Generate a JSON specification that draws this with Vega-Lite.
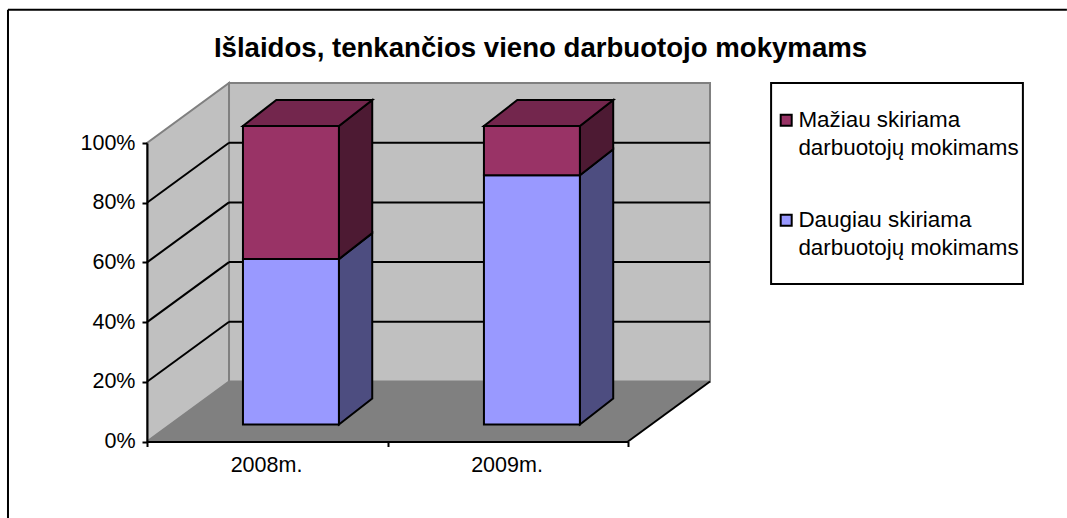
{
  "$schema": "https://vega.github.io/schema/vega-lite/v6.json",
  "width": 481,
  "height": 298.5,
  "autosize": "none",
  "padding": {"left": 147, "top": 143, "right": 439, "bottom": 76.5},
  "background": "white",
  "title": {"text": "Išlaidos, tenkančios vieno darbuotojo mokymams", "font": "Liberation Sans", "fontSize": 27.6, "fontWeight": "bold", "color": "black", "anchor": "middle", "dx": 153, "offset": -54},
  "datasets": {
    "bars": [
      {"year": "2008m.", "series": "Daugiau skiriama darbuotojų mokimams", "value": 55.4},
      {"year": "2008m.", "series": "Mažiau skiriama darbuotojų mokimams", "value": 44.6},
      {"year": "2009m.", "series": "Daugiau skiriama darbuotojų mokimams", "value": 83.5},
      {"year": "2009m.", "series": "Mažiau skiriama darbuotojų mokimams", "value": 16.5}
    ],
    "depth": [{"d": 0}, {"d": 1}],
    "grid": [{"t": 20}, {"t": 40}, {"t": 60}, {"t": 80}],
    "one": [{"k": 1}]
  },
  "config": {"view": {"stroke": null}, "font": "Liberation Sans"},
  "layer": [
    {
      "data": {"name": "depth"},
      "transform": [
        {"calculate": "0.341*datum.d", "as": "x"},
        {"calculate": "20.1*datum.d", "as": "y"},
        {"calculate": "100+20.1*datum.d", "as": "y2"}
      ],
      "mark": {"type": "area", "fill": "#C0C0C0", "stroke": "#808080", "strokeWidth": 2},
      "encoding": {
        "x": {"field": "x", "type": "quantitative", "scale": {"domain": [0, 2], "nice": false, "zero": false},
          "axis": {"values": [0, 1, 2], "title": null, "grid": false, "domainColor": "black", "domainWidth": 2, "tickColor": "black", "tickWidth": 2, "tickSize": 5, "labelFont": "Liberation Sans", "labelFontSize": 21.5, "labelColor": "black", "labelPadding": 8, "labelOffset": 119, "labelFlush": false, "labelOverlap": false, "zindex": 1,
            "labelExpr": "datum.value==0?'2008m.':datum.value==1?'2009m.':''"}},
        "y": {"field": "y", "type": "quantitative", "scale": {"domain": [0, 100], "nice": false, "zero": false},
          "axis": {"values": [0, 20, 40, 60, 80, 100], "title": null, "grid": false, "domainColor": "black", "domainWidth": 2, "tickColor": "black", "tickWidth": 2, "tickSize": 5, "labelFont": "Liberation Sans", "labelFontSize": 21.5, "labelColor": "black", "labelPadding": 7, "zindex": 1,
            "labelExpr": "datum.value+'%'"}},
        "y2": {"field": "y2"}
      }
    },
    {
      "data": {"name": "one"},
      "mark": {"type": "rect", "fill": "#C0C0C0", "stroke": "#808080", "strokeWidth": 2},
      "encoding": {
        "x": {"datum": 0.341},
        "x2": {"datum": 2.341},
        "y": {"datum": 20.1},
        "y2": {"datum": 120.1}
      }
    },
    {
      "data": {"name": "depth"},
      "transform": [
        {"calculate": "0.341*datum.d", "as": "x"},
        {"calculate": "2+0.341*datum.d", "as": "x2"},
        {"calculate": "20.1*datum.d", "as": "y"}
      ],
      "mark": {"type": "area", "orient": "horizontal", "fill": "#808080"},
      "encoding": {
        "y": {"field": "y", "type": "quantitative"},
        "x": {"field": "x", "type": "quantitative"},
        "x2": {"field": "x2"}
      }
    },
    {
      "data": {"name": "one"},
      "mark": {"type": "rule", "color": "black", "strokeWidth": 2},
      "encoding": {"x": {"datum": 2}, "x2": {"datum": 2.341}, "y": {"datum": 0}, "y2": {"datum": 20.1}}
    },
    {
      "data": {"name": "grid"},
      "transform": [
        {"calculate": "datum.t+20.1", "as": "t2"}
      ],
      "mark": {"type": "rule", "color": "black", "strokeWidth": 2},
      "encoding": {
        "x": {"datum": 0.341},
        "x2": {"datum": 2.341},
        "y": {"field": "t2", "type": "quantitative"}
      }
    },
    {
      "data": {"name": "grid"},
      "transform": [
        {"calculate": "datum.t+20.1", "as": "t2"}
      ],
      "mark": {"type": "rule", "color": "black", "strokeWidth": 2},
      "encoding": {
        "x": {"datum": 0},
        "x2": {"datum": 0.341},
        "y": {"field": "t", "type": "quantitative"},
        "y2": {"field": "t2"}
      }
    },
    {
      "data": {"name": "bars"},
      "transform": [
        {"stack": "value", "groupby": ["year"], "sort": [{"field": "series", "order": "ascending"}], "as": ["v0", "v1"]},
        {"calculate": "datum.year=='2008m.'?0:1", "as": "idx"},
        {"filter": "datum.v0==0"},
        {"calculate": "[0,1]", "as": "p"},
        {"flatten": ["p"]},
        {"calculate": "datum.idx*1.002+0.798+0.1385*datum.p", "as": "x"},
        {"calculate": "datum.v0+5.7+8.7*datum.p", "as": "y"},
        {"calculate": "datum.v1+5.7+8.7*datum.p", "as": "y2"}
      ],
      "mark": {"type": "area", "fill": "#4D4D80", "stroke": "black", "strokeWidth": 2},
      "encoding": {
        "x": {"field": "x", "type": "quantitative"},
        "y": {"field": "y", "type": "quantitative"},
        "y2": {"field": "y2"},
        "detail": {"field": "year"}
      }
    },
    {
      "data": {"name": "bars"},
      "transform": [
        {"stack": "value", "groupby": ["year"], "sort": [{"field": "series", "order": "ascending"}], "as": ["v0", "v1"]},
        {"calculate": "datum.year=='2008m.'?0:1", "as": "idx"},
        {"filter": "datum.v0>0"},
        {"calculate": "[0,1]", "as": "p"},
        {"flatten": ["p"]},
        {"calculate": "datum.idx*1.002+0.798+0.1385*datum.p", "as": "x"},
        {"calculate": "datum.v0+5.7+8.7*datum.p", "as": "y"},
        {"calculate": "datum.v1+5.7+8.7*datum.p", "as": "y2"}
      ],
      "mark": {"type": "area", "fill": "#4D1A33", "stroke": "black", "strokeWidth": 2},
      "encoding": {
        "x": {"field": "x", "type": "quantitative"},
        "y": {"field": "y", "type": "quantitative"},
        "y2": {"field": "y2"},
        "detail": {"field": "year"}
      }
    },
    {
      "data": {"name": "bars"},
      "transform": [
        {"stack": "value", "groupby": ["year"], "sort": [{"field": "series", "order": "ascending"}], "as": ["v0", "v1"]},
        {"calculate": "datum.year=='2008m.'?0:1", "as": "idx"},
        {"filter": "datum.v0>0"},
        {"calculate": "[0,1]", "as": "p"},
        {"flatten": ["p"]},
        {"calculate": "datum.idx*1.002+0.399+0.1385*datum.p", "as": "x"},
        {"calculate": "datum.idx*1.002+0.798+0.1385*datum.p", "as": "x2"},
        {"calculate": "datum.v1+5.7+8.7*datum.p", "as": "y"}
      ],
      "mark": {"type": "area", "orient": "horizontal", "fill": "#73264D", "stroke": "black", "strokeWidth": 2},
      "encoding": {
        "y": {"field": "y", "type": "quantitative"},
        "x": {"field": "x", "type": "quantitative"},
        "x2": {"field": "x2"},
        "detail": {"field": "year"}
      }
    },
    {
      "data": {"name": "one"},
      "mark": {"type": "rect", "fill": "white", "stroke": "black", "strokeWidth": 2},
      "encoding": {"x": {"datum": 2.595}, "x2": {"datum": 3.642}, "y": {"datum": 120.1}, "y2": {"datum": 52.8}}
    },
    {
      "data": {"name": "bars"},
      "transform": [
        {"stack": "value", "groupby": ["year"], "sort": [{"field": "series", "order": "ascending"}], "as": ["v0", "v1"]},
        {"calculate": "datum.year=='2008m.'?0:1", "as": "idx"},
        {"calculate": "datum.idx*1.002+0.399", "as": "x"},
        {"calculate": "datum.idx*1.002+0.798", "as": "x2"},
        {"calculate": "datum.v0+5.7", "as": "y"},
        {"calculate": "datum.v1+5.7", "as": "y2"}
      ],
      "mark": {"type": "rect", "stroke": "black", "strokeWidth": 2},
      "encoding": {
        "x": {"field": "x", "type": "quantitative"},
        "x2": {"field": "x2"},
        "y": {"field": "y", "type": "quantitative"},
        "y2": {"field": "y2"},
        "fill": {
          "field": "series", "type": "nominal",
          "scale": {"domain": ["Mažiau skiriama darbuotojų mokimams", "Daugiau skiriama darbuotojų mokimams"], "range": ["#993366", "#9999FF"]},
          "legend": {
            "title": null, "orient": "none", "legendX": 628, "legendY": -34,
            "padding": 0,
            "symbolType": "square", "symbolSize": 121, "symbolStrokeColor": "black", "symbolStrokeWidth": 2,
            "labelFont": "Liberation Sans", "labelFontSize": 22.4, "labelColor": "black", "labelLimit": 400, "labelOffset": 1,
            "labelBaseline": "middle", "rowPadding": 49,
            "labelExpr": "[split(datum.label,' darbuotojų')[0], 'darbuotojų'+split(datum.label,' darbuotojų')[1]]",
            "encode": {"labels": {"update": {"lineHeight": {"value": 28}}}}
          }
        }
      }
    },
    {
      "data": {"name": "one"},
      "mark": {"type": "rule", "color": "black", "strokeWidth": 2},
      "encoding": {"x": {"datum": -0.578}, "x2": {"datum": 3.825}, "y": {"datum": 144.6}}
    },
    {
      "data": {"name": "one"},
      "mark": {"type": "rule", "color": "black", "strokeWidth": 2},
      "encoding": {"x": {"datum": -0.578}, "y": {"datum": 144.6}, "y2": {"datum": -26}}
    }
  ]
}
